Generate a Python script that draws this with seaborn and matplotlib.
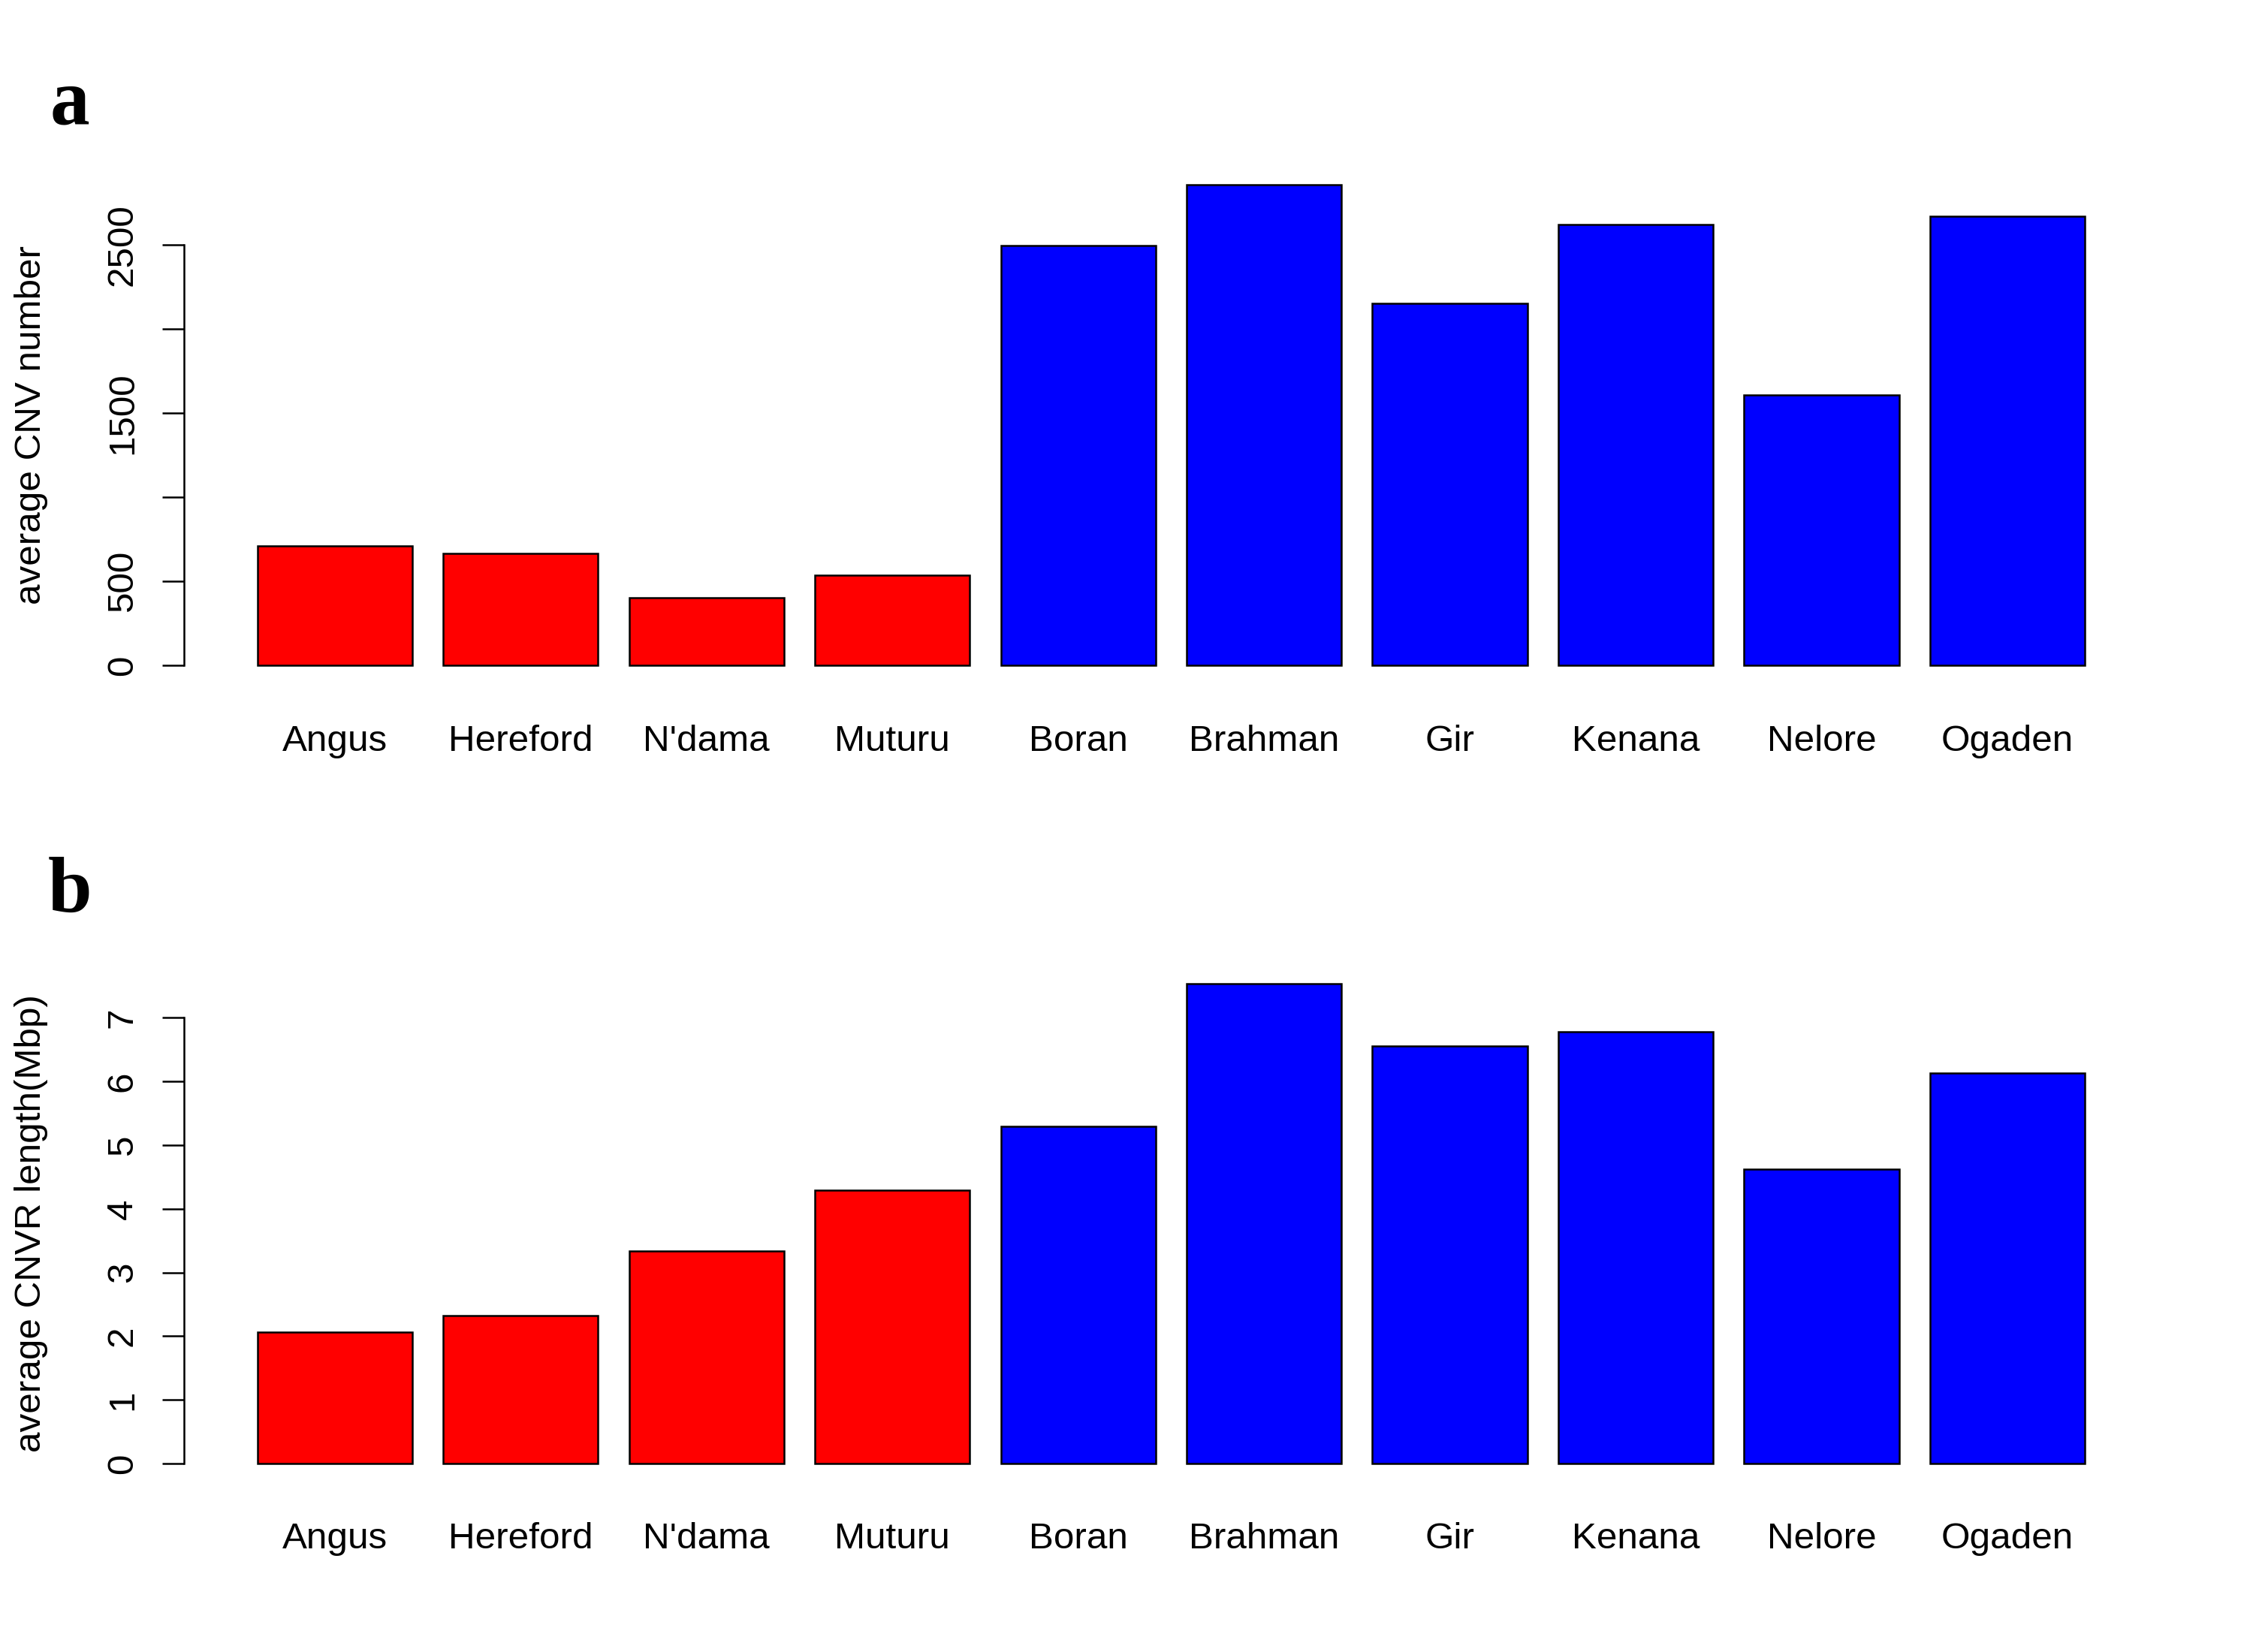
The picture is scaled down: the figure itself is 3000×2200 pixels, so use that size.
import numpy as np
import pandas as pd
import matplotlib
matplotlib.use("Agg")
import matplotlib.pyplot as plt
import seaborn as sns

# ---- data ----
breeds = ["Angus", "Hereford", "N'dama", "Muturu", "Boran", "Brahman",
          "Gir", "Kenana", "Nelore", "Ogaden"]
groups = ["taurine"] * 4 + ["indicine"] * 6
cnv_number = [710, 667, 404, 539, 2493, 2857, 2150, 2619, 1607, 2666]
cnvr_length = [2.06, 2.32, 3.34, 4.29, 5.29, 7.54, 6.55, 6.78, 4.62, 6.13]
yticks_a = [0, 500, 1000, 1500, 2000, 2500]
yticklabels_a = ["0", "500", "", "1500", "", "2500"]
yticks_b = [0, 1, 2, 3, 4, 5, 6, 7]
yticklabels_b = ["0", "1", "2", "3", "4", "5", "6", "7"]
ylabel_a = "average CNV number"
ylabel_b = "average CNVR length(Mbp)"
palette = {"taurine": "#FF0000", "indicine": "#0000FF"}

sns.set_style("white")
plt.rcParams["font.family"] = ["Liberation Sans", "DejaVu Sans"]
plt.rcParams["text.color"] = "black"
plt.rcParams["axes.labelcolor"] = "black"
plt.rcParams["xtick.color"] = "black"
plt.rcParams["ytick.color"] = "black"

fig = plt.figure(figsize=(15, 11), dpi=200)
fig.patch.set_facecolor("white")

FS = 17.8
LW = 0.9
space = 0.2
bar_w = 1 / (1 + space)
n = len(breeds)
# R-like x extent: bars span [space, n*(1+space)] in R units, expanded 4%
r_lo, r_hi = space, n * (1 + space)
ext = 0.04 * (r_hi - r_lo)
xlim = ((r_lo - ext - (space + 0.5)) / (1 + space),
        (r_hi + ext - (space + 0.5)) / (1 + space))

def panel(rect, values, yticks, yticklabels, ylabel, letter, letter_y):
    ax = fig.add_axes(rect)
    df = pd.DataFrame({"breed": breeds, "value": values, "group": groups})
    sns.barplot(data=df, x="breed", y="value", hue="group", palette=palette,
                order=breeds, hue_order=["taurine", "indicine"], dodge=False,
                width=bar_w, edgecolor="black", linewidth=LW, legend=False,
                saturation=1, ax=ax, errorbar=None)
    vmax = max(values)
    ax.set_ylim(-0.04 * vmax, 1.04 * vmax)
    ax.set_xlim(*xlim)
    ax.set_yticks(yticks)
    ax.set_yticklabels(yticklabels, rotation=90, va="center", fontsize=FS)
    ax.tick_params(axis="y", length=10.4, width=LW, pad=11, color="black",
                   left=True, labelcolor="black")
    ax.tick_params(axis="x", length=0, pad=19, labelsize=FS, labelcolor="black")
    for s in ["top", "right", "bottom"]:
        ax.spines[s].set_visible(False)
    ax.spines["left"].set_linewidth(LW)
    ax.spines["left"].set_color("black")
    ax.spines["left"].set_bounds(yticks[0], yticks[-1])
    ax.set_xlabel("")
    ax.set_ylabel(ylabel, fontsize=FS, color="black")
    ax.yaxis.set_label_coords(-0.069, 0.5)
    ax.set_facecolor("white")
    ax.grid(False)
    fig.text(0.031, letter_y, letter, family=["Liberation Serif"],
             fontweight="bold", fontsize=38, ha="center", va="baseline",
             color="black")
    return ax

panel([0.0818, 0.5854, 0.876, 0.3146], cnv_number, yticks_a, yticklabels_a,
      ylabel_a, "a", 0.925)
panel([0.0818, 0.1024, 0.876, 0.3140], cnvr_length, yticks_b, yticklabels_b,
      ylabel_b, "b", 0.4478)

fig.savefig("out.png", dpi=200, facecolor="white")
